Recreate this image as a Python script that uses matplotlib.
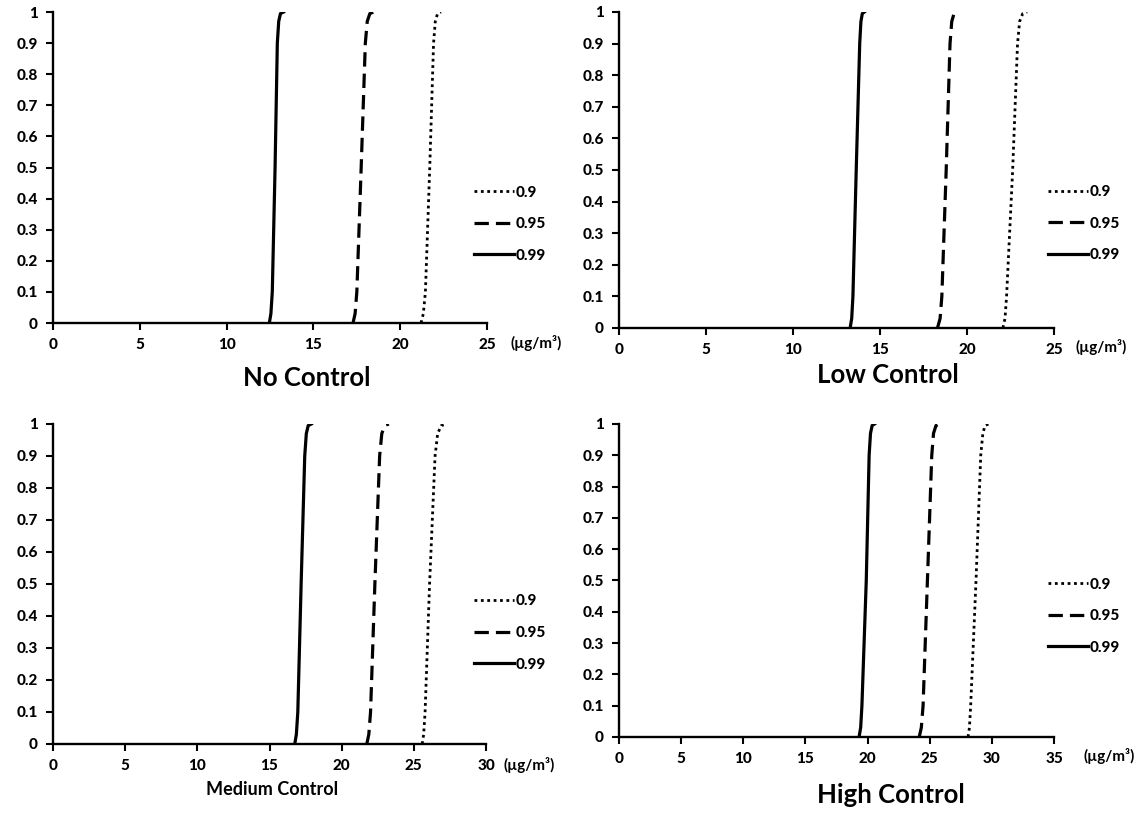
import matplotlib
matplotlib.use("Agg")
import matplotlib.pyplot as plt
from matplotlib.lines import Line2D

plt.rcParams['font.family'] = ['Lato', 'DejaVu Sans']
plt.rcParams['font.weight'] = 'bold'

# cumulative probability levels at which the curves were read
prob = [0, 0.03, 0.1, 0.5, 0.9, 0.97, 0.995, 1.0]

series_labels = ['0.9', '0.95', '0.99']
scenarios = ['No Control', 'Low Control', 'Medium Control', 'High Control']
x_max = [25, 25, 30, 35]

# concentration (ug/m3) reached at each probability level, per confidence level
no_09 = [21.2, 21.33, 21.45, 21.7, 21.92, 22.02, 22.15, 22.35]
no_095 = [17.28, 17.4, 17.5, 17.75, 17.99, 18.1, 18.25, 18.47]
no_099 = [12.46, 12.55, 12.63, 12.79, 12.92, 13.0, 13.1, 13.28]

low_09 = [22.06, 22.18, 22.27, 22.62, 22.9, 23.02, 23.2, 23.45]
low_095 = [18.3, 18.45, 18.55, 18.8, 19.02, 19.12, 19.25, 19.44]
low_099 = [13.28, 13.37, 13.44, 13.63, 13.83, 13.9, 13.98, 14.1]

med_09 = [25.58, 25.68, 25.78, 26.09, 26.47, 26.65, 26.9, 27.3]
med_095 = [21.74, 21.88, 22.0, 22.3, 22.63, 22.78, 22.98, 23.27]
med_099 = [16.75, 16.86, 16.96, 17.19, 17.44, 17.55, 17.68, 17.9]

high_09 = [28.08, 28.19, 28.29, 28.72, 29.1, 29.27, 29.45, 29.73]
high_095 = [24.15, 24.32, 24.46, 24.81, 25.16, 25.3, 25.5, 25.77]
high_099 = [19.31, 19.44, 19.54, 19.89, 20.12, 20.23, 20.36, 20.56]

curves = [
    [no_09, no_095, no_099],
    [low_09, low_095, low_099],
    [med_09, med_095, med_099],
    [high_09, high_095, high_099],
]

styles = [
    dict(linestyle=(0, (1, 1.3)), linewidth=2.0, dash_capstyle='butt'),
    dict(linestyle=(0, (4.5, 2.2)), linewidth=2.3, dash_capstyle='butt'),
    dict(linestyle='-', linewidth=2.3),
]

# axes boxes [left, bottom, width, height] in figure fractions
boxes = [
    [0.0464, 0.6027, 0.3797, 0.3825],
    [0.5416, 0.5966, 0.3806, 0.3887],
    [0.0464, 0.0849, 0.3788, 0.3936],
    [0.5416, 0.0935, 0.3806, 0.3850],
]
legend_pos = [(0.97, 0.318), (0.986, 0.33), (0.972, 0.347), (0.986, 0.386)]
title_pos = [(0.268, 0.535), (0.777, 0.539), (0.238, 0.029), (0.779, 0.022)]
title_size = [18.5, 18.5, 13, 18.5]
unit_off = [(23, -20), (21, -19), (17, -21), (29, -19)]

fig = plt.figure(figsize=(11.43, 8.13), dpi=100)

for i, name in enumerate(scenarios):
    ax = fig.add_axes(boxes[i])
    for xs, lab, st in zip(curves[i], series_labels, styles):
        ax.plot(xs, prob, color='black', label=lab, **st)
    ax.set_xlim(0, x_max[i])
    ax.set_ylim(0, 1)
    ax.set_xticks(range(0, x_max[i] + 1, 5))
    ax.set_yticks([k / 10 for k in range(11)])
    ax.set_yticklabels(['0'] + ['0.%d' % k for k in range(1, 10)] + ['1'])
    for side in ['top', 'right']:
        ax.spines[side].set_visible(False)
    for side in ['left', 'bottom']:
        ax.spines[side].set_linewidth(1.7)
    ax.tick_params(direction='out', length=5, width=1.5, labelsize=11, pad=6)
    for lbl in ax.get_xticklabels() + ax.get_yticklabels():
        lbl.set_fontweight('black')

    handles = [Line2D([], [], color='black', **st) for st in styles]
    ax.legend(handles, series_labels, loc='center left',
              bbox_to_anchor=legend_pos[i], frameon=False,
              handlelength=2.6, handletextpad=0.15, labelspacing=1.15,
              borderpad=0, borderaxespad=0,
              prop={'family': ['Lato', 'DejaVu Sans'], 'weight': 'black', 'size': 11})

    ax.annotate('(µg/m³)', xy=(1, 0), xycoords='axes fraction',
                xytext=unit_off[i], textcoords='offset pixels',
                ha='left', va='center', fontsize=11, fontweight='bold')

    fig.text(title_pos[i][0], title_pos[i][1], name, ha='center', va='center',
             fontsize=title_size[i], fontweight='bold')

fig.savefig('out.png', dpi=100)
